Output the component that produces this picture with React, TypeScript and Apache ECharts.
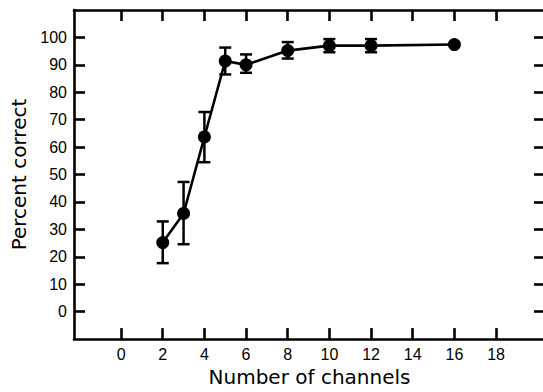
import React, { useEffect, useRef } from "react";
import * as echarts from "echarts";

const channels = [2, 3, 4, 5, 6, 8, 10, 12, 16];
const percentCorrect = [25.2, 35.8, 63.7, 91.4, 90.0, 95.2, 97.0, 97.0, 97.4];
const errLow = [17.7, 24.6, 54.5, 86.5, 87.1, 92.3, 94.6, 94.6, 97.4];
const errHigh = [32.9, 47.3, 72.8, 96.3, 93.8, 98.3, 99.4, 99.4, 97.4];
const xTicks = [0, 2, 4, 6, 8, 10, 12, 14, 16, 18];
const yTicks = [0, 10, 20, 30, 40, 50, 60, 70, 80, 90, 100];

export default function App() {
  const ref = useRef<HTMLDivElement>(null);
  useEffect(() => {
    if (!ref.current) return;
    const chart = echarts.init(ref.current, null, { renderer: "svg" });
    const nameFont = "DejaVu Sans";
    const tickFont = "Liberation Sans";
    const axisLine = { show: true, onZero: false, lineStyle: { color: "#000", width: 2.6 } };
    const tick = (vals: number[]) => ({
      show: true,
      inside: true,
      length: 11,
      customValues: vals,
      lineStyle: { color: "#000", width: 2.6 },
    });
    const lineData = channels.map((c, i) => [c, percentCorrect[i]]);
    const errData = channels.map((c, i) => [c, errLow[i], errHigh[i]]);
    chart.setOption({
      animation: false,
      backgroundColor: "#fff",
      grid: { left: 74, right: 15, top: 10, bottom: 48, containLabel: false },
      xAxis: [
        {
          type: "value",
          min: -2.26,
          max: 20.35,
          position: "bottom",
          axisLine,
          axisTick: tick(xTicks),
          axisLabel: {
            customValues: xTicks,
            margin: 7,
            color: "#000",
            fontFamily: tickFont,
            fontSize: 16,
          },
          splitLine: { show: false },
          name: "Number of channels",
          nameLocation: "middle",
          nameGap: 22,
          nameTextStyle: { color: "#000", fontFamily: nameFont, fontSize: 20 },
        },
        {
          type: "value",
          min: -2.26,
          max: 20.35,
          position: "top",
          axisLine,
          axisTick: tick(xTicks),
          axisLabel: { show: false },
          splitLine: { show: false },
        },
      ],
      yAxis: [
        {
          type: "value",
          min: -10,
          max: 110,
          position: "left",
          axisLine,
          axisTick: tick(yTicks),
          axisLabel: {
            customValues: yTicks,
            margin: 7,
            color: "#000",
            fontFamily: tickFont,
            fontSize: 16,
          },
          splitLine: { show: false },
          name: "Percent correct",
          nameLocation: "middle",
          nameGap: 40,
          nameTextStyle: { color: "#000", fontFamily: nameFont, fontSize: 20 },
        },
        {
          type: "value",
          min: -10,
          max: 110,
          position: "right",
          axisLine,
          axisTick: tick(yTicks),
          axisLabel: { show: false },
          splitLine: { show: false },
        },
      ],
      series: [
        {
          type: "custom",
          z: 1,
          data: errData,
          renderItem: (params: any, api: any) => {
            const x = api.value(0);
            const lo = api.value(1);
            const hi = api.value(2);
            if (hi - lo < 0.01) return { type: "group", children: [] };
            const pLo = api.coord([x, lo]);
            const pHi = api.coord([x, hi]);
            const hw = 6;
            const style = { stroke: "#000", lineWidth: 2.5 };
            return {
              type: "group",
              children: [
                { type: "line", shape: { x1: pLo[0], y1: pLo[1], x2: pHi[0], y2: pHi[1] }, style },
                { type: "line", shape: { x1: pLo[0] - hw, y1: pLo[1], x2: pLo[0] + hw, y2: pLo[1] }, style },
                { type: "line", shape: { x1: pHi[0] - hw, y1: pHi[1], x2: pHi[0] + hw, y2: pHi[1] }, style },
              ],
            };
          },
        },
        {
          type: "line",
          z: 2,
          data: lineData,
          symbol: "circle",
          symbolSize: 13,
          itemStyle: { color: "#000" },
          lineStyle: { color: "#000", width: 2.6 },
        },
      ],
    });
    return () => chart.dispose();
  }, []);
  return (
    <div
      style={{
        position: "fixed",
        left: 0,
        top: 0,
        width: 543,
        height: 392,
        overflow: "hidden",
        background: "#fff",
      }}
    >
      <div ref={ref} style={{ width: 560, height: 392 }} />
    </div>
  );
}
